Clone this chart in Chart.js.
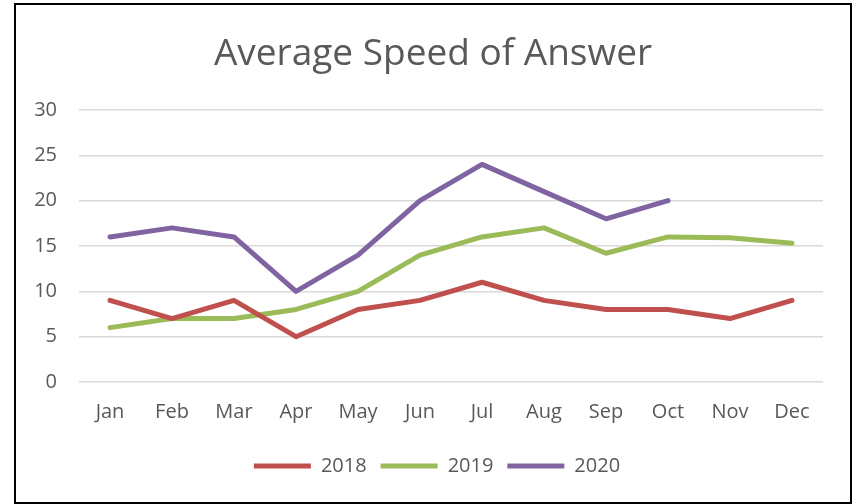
<!DOCTYPE html>
<html>
<head>
<meta charset="utf-8">
<script src="https://cdn.jsdelivr.net/npm/chart.js@4"></script>
<style>
  html, body { margin: 0; padding: 0; background: #fff; }
  #wrap { position: absolute; left: 0; top: 0; width: 858px; height: 504px; }
</style>
</head>
<body>
<div id="wrap"><canvas id="c" width="858" height="504"></canvas></div>
<script>
const months = ["Jan","Feb","Mar","Apr","May","Jun","Jul","Aug","Sep","Oct","Nov","Dec"];
const series2018 = [9, 7, 9, 5, 8, 9, 11, 9, 8, 8, 7, 9];
const series2019 = [6, 7, 7, 8, 10, 14, 16, 17, 14.2, 16, 15.9, 15.3];
const series2020 = [16, 17, 16, 10, 14, 20, 24, 21, 18, 20, null, null];
const yTicks = [0, 5, 10, 15, 20, 25, 30];
const titleText = "Average Speed of Answer";

const textColor = "#595959";
const fontFam = "'Open Sans', 'DejaVu Sans', sans-serif";

const framePlugin = {
  id: 'frame',
  afterLayout(chart) {
    // shift title and legend to their centred positions in the reference
    if (chart.titleBlock) { chart.titleBlock.left += 21.5; chart.titleBlock.right += 21.5; }
    if (chart.legend) { chart.legend.left += 25.5; chart.legend.right += 25.5; }
  },
  afterDraw(chart) {
    const ctx = chart.ctx;
    ctx.save();
    ctx.strokeStyle = '#000';
    ctx.lineWidth = 2;
    ctx.strokeRect(15, 4, 836, 499);
    ctx.restore();
  }
};

new Chart(document.getElementById('c'), {
  type: 'line',
  data: {
    labels: months,
    datasets: [
      { label: '2018', data: series2018, borderColor: '#C0504D', backgroundColor: '#C0504D' },
      { label: '2019', data: series2019, borderColor: '#9BBB59', backgroundColor: '#9BBB59' },
      { label: '2020', data: series2020, borderColor: '#8064A2', backgroundColor: '#8064A2' }
    ].map(d => Object.assign(d, { borderWidth: 5, pointRadius: 0, tension: 0, borderCapStyle: 'round', borderJoinStyle: 'round', fill: false, spanGaps: false }))
  },
  options: {
    responsive: false,
    animation: false,
    devicePixelRatio: 1,
    layout: { padding: { left: 0, right: 35, top: 0, bottom: 18 } },
    plugins: {
      title: {
        display: true,
        text: titleText,
        color: textColor,
        font: { family: fontFam, size: 37, weight: '400' },
        padding: { top: 32.5, bottom: 33.1 }
      },
      legend: {
        position: 'bottom',
        labels: {
          color: textColor,
          font: { family: fontFam, size: 20 },
          usePointStyle: true,
          pointStyle: 'line',
          pointStyleWidth: 57,
          padding: 14
        }
      },
      tooltip: { enabled: false }
    },
    scales: {
      x: {
        offset: true,
        afterFit(scale) { scale.height = 60; },
        grid: { display: false, drawTicks: false },
        border: { display: false },
        ticks: { color: textColor, font: { family: fontFam, size: 20 }, padding: 18, maxRotation: 0 }
      },
      y: {
        min: 0, max: 30,
        afterFit(scale) { scale.width = 79; },
        afterBuildTicks(scale) { scale.ticks = yTicks.map(v => ({ value: v })); },
        grid: { color: '#D9D9D9', lineWidth: 1.5, drawTicks: false },
        border: { display: false },
        ticks: { color: textColor, font: { family: fontFam, size: 20 }, padding: 22 }
      }
    }
  },
  plugins: [framePlugin]
});
</script>
</body>
</html>
